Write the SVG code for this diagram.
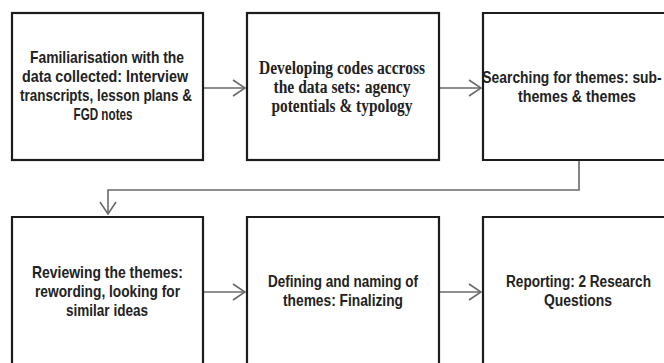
<svg xmlns="http://www.w3.org/2000/svg" width="664" height="363" viewBox="0 0 664 363">
<style>
.box{fill:#ffffff;stroke:#1c1c1c;stroke-width:2.2}
.t{font-family:"Liberation Sans",Arial,sans-serif;font-weight:bold;font-size:17px;fill:#222222;text-anchor:middle}
.s{font-family:"Liberation Serif","Times New Roman",serif;font-weight:bold;font-size:18px;fill:#222222;text-anchor:middle}
.c{fill:none;stroke:#6a6a6a;stroke-width:1.6}
</style>
<defs>
<marker id="ah" viewBox="0 0 14 18" refX="13" refY="9" markerWidth="14" markerHeight="18" markerUnits="userSpaceOnUse" orient="auto">
<path d="M1,1 L13,9 L1,17" fill="none" stroke="#6a6a6a" stroke-width="1.6"/>
</marker>
</defs>
<rect width="664" height="363" fill="#ffffff"/>
<g id="connectors">
<line class="c" x1="203" y1="88" x2="245" y2="88" marker-end="url(#ah)"/>
<line class="c" x1="439" y1="88" x2="481" y2="88" marker-end="url(#ah)"/>
<polyline class="c" points="579,160 579,190 108,190 108,214" marker-end="url(#ah)"/>
<line class="c" x1="203" y1="292" x2="245" y2="292" marker-end="url(#ah)"/>
<line class="c" x1="439" y1="292" x2="481" y2="292" marker-end="url(#ah)"/>
</g>
<g id="node1">
<rect class="box" x="12" y="13" width="191" height="147"/>
<text class="t" x="107" y="63" textLength="154" lengthAdjust="spacingAndGlyphs">Familiarisation with the</text>
<text class="t" x="105" y="82" textLength="166" lengthAdjust="spacingAndGlyphs">data collected: Interview</text>
<text class="t" x="106" y="101" textLength="172" lengthAdjust="spacingAndGlyphs">transcripts, lesson plans &amp;</text>
<text class="t" x="103" y="120" textLength="59" lengthAdjust="spacingAndGlyphs">FGD notes</text>
</g>
<g id="node2">
<rect class="box" x="247" y="13" width="192" height="147"/>
<text class="s" x="342" y="74" textLength="166" lengthAdjust="spacingAndGlyphs">Developing codes accross</text>
<text class="s" x="342" y="93" textLength="137" lengthAdjust="spacingAndGlyphs">the data  sets: agency</text>
<text class="s" x="342" y="112" textLength="141" lengthAdjust="spacingAndGlyphs">potentials &amp; typology</text>
</g>
<g id="node3">
<path class="box" d="M664,13 H483 V160 H664"/>
<text class="t" transform="translate(572 83) scale(0.815 1)" x="0" y="0">Searching for themes: sub-</text>
<text class="t" x="577" y="102" textLength="118" lengthAdjust="spacingAndGlyphs">themes &amp; themes</text>
</g>
<g id="node4">
<path class="box" d="M12,363 V217 H203 V363"/>
<text class="t" x="107.5" y="278" textLength="151" lengthAdjust="spacingAndGlyphs">Reviewing the themes:</text>
<text class="t" x="107.5" y="297" textLength="145" lengthAdjust="spacingAndGlyphs">rewording, looking for</text>
<text class="t" x="107" y="316" textLength="82" lengthAdjust="spacingAndGlyphs">similar ideas</text>
</g>
<g id="node5">
<path class="box" d="M247,363 V217 H439 V363"/>
<text class="t" x="343" y="287" textLength="150" lengthAdjust="spacingAndGlyphs">Defining and naming of</text>
<text class="t" x="343" y="306" textLength="120" lengthAdjust="spacingAndGlyphs">themes: Finalizing</text>
</g>
<g id="node6">
<path class="box" d="M664,217 H483 V363"/>
<text class="t" transform="translate(578.5 287) scale(0.8 1)" x="0" y="0">Reporting: 2 Research</text>
<text class="t" x="578" y="306" textLength="68" lengthAdjust="spacingAndGlyphs">Questions</text>
</g>
</svg>
